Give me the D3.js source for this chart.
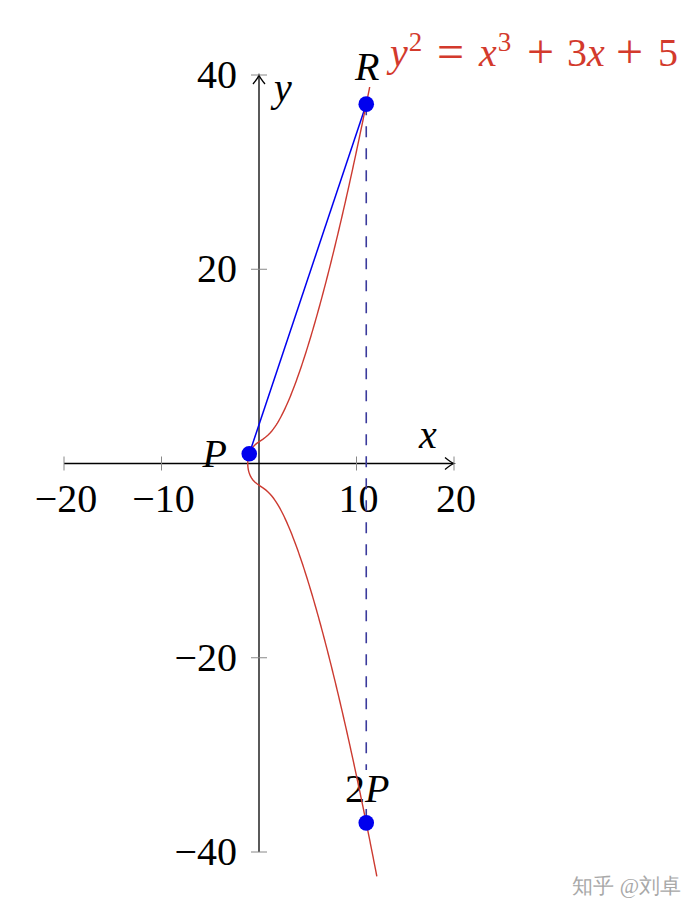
<!DOCTYPE html>
<html><head><meta charset="utf-8">
<script src="https://cdn.jsdelivr.net/npm/d3@7"></script>
<style>
html,body{margin:0;padding:0;background:#fff;}
svg{display:block;}
text{font-family:"Liberation Serif","DejaVu Serif",serif;}
</style></head>
<body>
<script>
// ---- data ----
const xTicks = [-20, -10, 10, 20];
const yTicks = [-40, -20, 20, 40];
const xDomain = [-20, 20];
const yDomain = [-40, 40];
// curve y^2 = x^3 + a x + b
const curveA = 3, curveB = 5;
const curveYRange = [-42.5, 41.2];
const points = [
  {name: "P", x: -1, y: 1},
  {name: "R", x: 11, y: 37},
  {name: "2P", x: 11, y: -37}
];
const watermark = "知乎 @刘卓";

// ---- drawing ----
const W = 700, H = 916;
const svg = d3.select("body").append("svg").attr("width", W).attr("height", H);
const x = d3.scaleLinear().domain(xDomain).range([64, 454]);
const y = d3.scaleLinear().domain(yDomain).range([852, 75]);
const FS = 40;

// axes lines
const axisG = svg.append("g");
axisG.append("line").attr("x1", x(-20)).attr("x2", x(20)).attr("y1", y(0)).attr("y2", y(0))
  .attr("stroke", "#000").attr("stroke-width", 1.3);
axisG.append("line").attr("x1", x(0)).attr("x2", x(0)).attr("y1", y(-40)).attr("y2", y(40))
  .attr("stroke", "#000").attr("stroke-width", 1.3);
// arrow heads
axisG.append("path").attr("d", `M${x(20)-9},${y(0)-6} Q${x(20)-3},${y(0)-1} ${x(20)},${y(0)} Q${x(20)-3},${y(0)+1} ${x(20)-9},${y(0)+6}`)
  .attr("fill", "none").attr("stroke", "#000").attr("stroke-width", 1.3);
axisG.append("path").attr("d", `M${x(0)-6},${y(40)+9} Q${x(0)-1},${y(40)+3} ${x(0)},${y(40)} Q${x(0)+1},${y(40)+3} ${x(0)+6},${y(40)+9}`)
  .attr("fill", "none").attr("stroke", "#000").attr("stroke-width", 1.3);

// ticks
axisG.selectAll(".xt").data(xTicks).join("line")
  .attr("x1", d => x(d)).attr("x2", d => x(d)).attr("y1", y(0) - 7).attr("y2", y(0) + 7)
  .attr("stroke", "#888").attr("stroke-width", 1);
axisG.selectAll(".yt").data(yTicks).join("line")
  .attr("y1", d => y(d)).attr("y2", d => y(d)).attr("x1", x(0) - 8).attr("x2", x(0) + 8)
  .attr("stroke", "#888").attr("stroke-width", 1);

const fmt = d => (d < 0 ? "\u2212" : "") + Math.abs(d);
axisG.selectAll(".xl").data(xTicks).join("text")
  .attr("x", d => x(d) + 2).attr("y", y(0) + 48).attr("text-anchor", "middle")
  .attr("font-size", FS).text(fmt);
axisG.selectAll(".yl").data(yTicks).join("text")
  .attr("x", x(0) - 22).attr("y", d => y(d) + 13).attr("text-anchor", "end")
  .attr("font-size", FS).text(fmt);

// axis labels
svg.append("text").attr("x", 428).attr("y", 448).attr("text-anchor", "middle")
  .attr("font-size", FS).attr("font-style", "italic").text("x");
svg.append("text").attr("x", 283).attr("y", 101).attr("text-anchor", "middle")
  .attr("font-size", FS).attr("font-style", "italic").text("y");

const P = points[0], R = points[1], P2 = points[2];

// dashed vertical line R -> 2P
svg.append("line").attr("x1", x(R.x)).attr("x2", x(P2.x)).attr("y1", y(R.y)).attr("y2", y(P2.y))
  .attr("stroke", "#3a3a9c").attr("stroke-width", 1.6).attr("stroke-dasharray", "11,11");

// label helper with optional white box
function label(cx, base, anchor, parts, boxed) {
  const g = svg.append("g");
  const t = g.append("text").attr("x", cx).attr("y", base).attr("text-anchor", anchor)
    .attr("font-size", FS);
  parts.forEach(p => t.append("tspan").attr("font-style", p[1] ? "italic" : "normal").text(p[0]));
  if (boxed) {
    const bb = t.node().getBBox();
    g.insert("rect", "text").attr("x", bb.x - 2).attr("y", bb.y + 4).attr("width", bb.width + 4)
      .attr("height", bb.height - 6).attr("fill", "#fff");
  }
  return g;
}
label(x(P2.x) + 1, 802, "middle", [["2", false], ["P", true]], true);

// tangent line P -> R
svg.append("line").attr("x1", x(P.x)).attr("y1", y(P.y)).attr("x2", x(R.x)).attr("y2", y(R.y))
  .attr("stroke", "#0000ee").attr("stroke-width", 1.5);

// curve: for each y, solve x^3 + a x + (b - y^2) = 0 (one real root)
function solveX(yy) {
  const p = curveA, q = curveB - yy * yy;
  const disc = Math.sqrt(q * q / 4 + p * p * p / 27);
  return Math.cbrt(-q / 2 + disc) + Math.cbrt(-q / 2 - disc);
}
const yy = d3.range(curveYRange[0], curveYRange[1] + 1e-9, (curveYRange[1] - curveYRange[0]) / 400);
const curvePts = yy.map(v => [solveX(v), v]);
svg.append("path").datum(curvePts)
  .attr("d", d3.line().x(d => x(d[0])).y(d => y(d[1])))
  .attr("fill", "none").attr("stroke", "#cc3a30").attr("stroke-width", 1.4);

// points
svg.selectAll(".pt").data(points).join("circle")
  .attr("cx", d => x(d.x)).attr("cy", d => y(d.y)).attr("r", 7.8).attr("fill", "#0000ee");

// labels
label(x(R.x) + 1, 80, "middle", [["R", true]], true);
label(227, 467, "end", [["P", true]], false);

// equation  (terms placed to mimic TeX spacing)
const eqTerms = [
  {x: 390, parts: [["y", "it"], ["2", "sup"]]},
  {x: 437, parts: [["=", "op"]]},
  {x: 479, parts: [["x", "it"], ["3", "sup"]]},
  {x: 527, parts: [["+", "op"]]},
  {x: 567, parts: [["3", ""], ["x", "it"]]},
  {x: 616, parts: [["+", "op"]]},
  {x: 658, parts: [["5", ""]]}
];
const eqG = svg.append("g").attr("fill", "#d33a2c");
eqTerms.forEach(term => {
  const isOp = term.parts[0][1] === "op";
  const t = eqG.append("text").attr("x", term.x).attr("y", isOp ? 68 : 66)
    .attr("font-size", isOp ? 48 : FS);
  let raised = false;
  term.parts.forEach(p => {
    const ts = t.append("tspan").text(p[0]);
    if (p[1] === "it") ts.attr("font-style", "italic");
    if (p[1] === "sup") { ts.attr("font-size", 27).attr("dy", -15).attr("dx", 1); raised = true; }
    else if (raised) { ts.attr("dy", 15); raised = false; }
  });
});

// watermark
svg.append("text").attr("x", 681).attr("y", 893).attr("text-anchor", "end")
  .attr("font-family", "Noto Sans CJK SC").attr("font-size", 21).attr("fill", "#a8a8a8")
  .text(watermark);
</script>
</body></html>
